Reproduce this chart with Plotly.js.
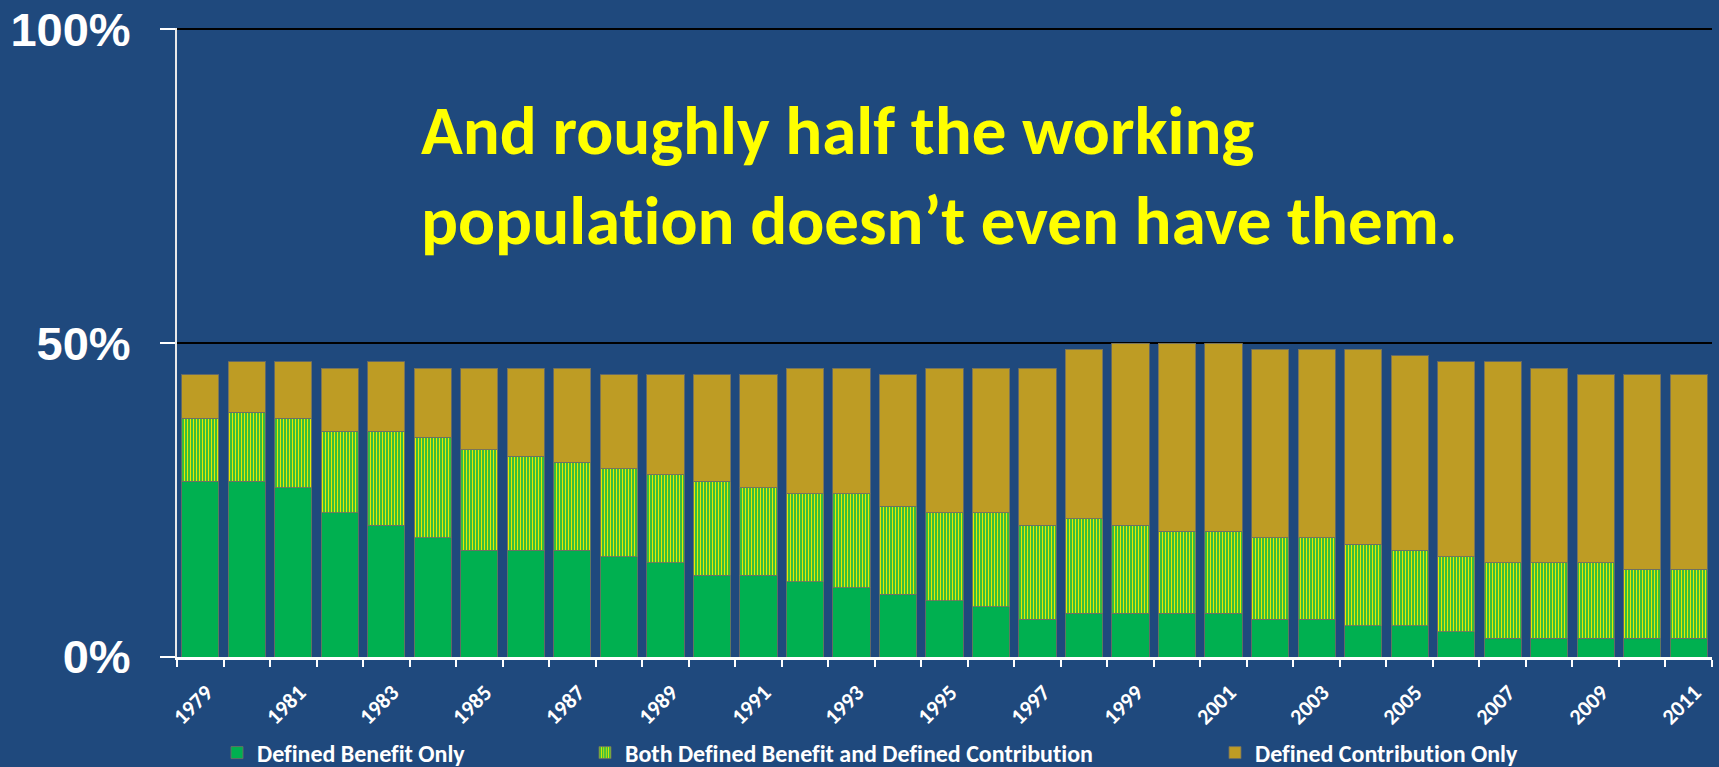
<!DOCTYPE html>
<html>
<head>
<meta charset="utf-8">
<script src="https://cdn.plot.ly/plotly-3.0.1.min.js"></script>
<style>
  html, body { margin: 0; padding: 0; background: #1F497D; }
  #chart { width: 1719px; height: 767px; }
  #chart text { font-variant-ligatures: none; font-feature-settings: "liga" 0, "clig" 0; }
</style>
</head>
<body>
<div id="chart"></div>
<script>
// ---- Data (percent of working population) ----
const years = ['1979','1980','1981','1982','1983','1984','1985','1986','1987','1988','1989',
  '1990','1991','1992','1993','1994','1995','1996','1997','1998','1999','2000',
  '2001','2002','2003','2004','2005','2006','2007','2008','2009','2010','2011'];

const definedBenefitOnly = [28,28,27,23,21,19,17,17,17,16,15,13,13,12,11,10,9,8,6,7,7,7,7,6,6,5,5,4,3,3,3,3,3];
const bothDBandDC        = [10,11,11,13,15,16,16,15,14,14,14,15,14,14,15,14,14,15,15,15,14,13,13,13,13,13,12,12,12,12,12,11,11];
const definedContribOnly = [7,8,9,10,11,11,13,14,15,15,16,17,18,20,20,21,23,23,25,27,29,30,30,30,30,31,31,31,32,31,30,31,31];

const xTickLabels = ['1979','','1981','','1983','','1985','','1987','','1989','',
  '1991','','1993','','1995','','1997','','1999','','2001','','2003','',
  '2005','','2007','','2009','','2011'];
const yTickValues = [0, 50, 100];
const yTickLabels = ['0%', '50%', '100%'];

const seriesNames = ['Defined Benefit Only', 'Both Defined Benefit and Defined Contribution', 'Defined Contribution Only'];
const titleLines = ['And roughly half the working', 'population doesn\u2019t even have them.'];

// ---- Styles ----
const BG = '#1F497D';
const GREEN = '#00B050';
const GOLD = '#BE9C24';
const YELLOW = '#FFFF00';
const OUTLINE = {color: 'rgba(110,110,100,0.85)', width: 1};
const FONT_CAL = 'Calibri, Carlito, Lato, sans-serif';
const legendFont = {family: FONT_CAL, size: 24, color: '#FFFFFF', weight: 700};

const traces = [
  {
    type: 'bar', x: years, y: definedBenefitOnly, name: seriesNames[0],
    marker: {color: GREEN, line: OUTLINE},
    legend: 'legend', hoverinfo: 'x+y+name'
  },
  {
    type: 'bar', x: years, y: bothDBandDC, name: seriesNames[1],
    marker: {color: GREEN, line: OUTLINE,
      pattern: {shape: '|', bgcolor: GREEN, fgcolor: '#E8E800', size: 3, solidity: 0.5, fillmode: 'replace'}},
    legend: 'legend2', hoverinfo: 'x+y+name'
  },
  {
    type: 'bar', x: years, y: definedContribOnly, name: seriesNames[2],
    marker: {color: GOLD, line: OUTLINE},
    legend: 'legend3', hoverinfo: 'x+y+name'
  }
];

const legendBase = {
  orientation: 'h', xref: 'container', yref: 'container',
  xanchor: 'left', yanchor: 'middle', y: 1 - 753/767,
  bgcolor: 'rgba(0,0,0,0)', borderwidth: 0, font: legendFont
};

const layout = {
  width: 1719, height: 767,
  paper_bgcolor: BG, plot_bgcolor: BG,
  margin: {l: 177, r: 7, t: 28, b: 110, pad: 0},
  barmode: 'stack', bargap: 0.2,
  showlegend: true,
  title: {
    text: titleLines.join('<br>'),
    font: {family: FONT_CAL, size: 69, color: YELLOW, weight: 700},
    xref: 'container', yref: 'container',
    x: 421/1719, xanchor: 'left',
    y: 1 - 154/767, yanchor: 'top'
  },
  xaxis: {
    type: 'category',
    tickmode: 'array', tickvals: years, ticktext: xTickLabels,
    tickson: 'boundaries', ticks: 'outside', ticklen: 7, tickwidth: 2, tickcolor: '#FFFFFF',
    tickangle: -45, ticklabelstandoff: 11, ticklabelshift: 6,
    tickfont: {family: FONT_CAL, size: 22, color: '#FFFFFF', weight: 700},
    showline: true, linecolor: '#FFFFFF', linewidth: 3,
    showgrid: false, zeroline: false, fixedrange: true
  },
  yaxis: {
    range: [0, 100.2],
    tickmode: 'array', tickvals: yTickValues, ticktext: yTickLabels,
    ticks: 'outside', ticklen: 15, tickwidth: 2, tickcolor: '#FFFFFF',
    ticklabelstandoff: 20,
    tickfont: {family: 'Arial, "Liberation Sans", sans-serif', size: 47, color: '#FFFFFF', weight: 700},
    showline: true, linecolor: '#E8E8E8', linewidth: 2,
    showgrid: true, gridcolor: '#000000', gridwidth: 2,
    zeroline: false, fixedrange: true
  },
  legend:  Object.assign({}, legendBase, {x: 217/1719}),
  legend2: Object.assign({}, legendBase, {x: 585/1719}),
  legend3: Object.assign({}, legendBase, {x: 1215/1719})
};

Plotly.newPlot('chart', traces, layout, {displayModeBar: false, responsive: false});
</script>
</body>
</html>
